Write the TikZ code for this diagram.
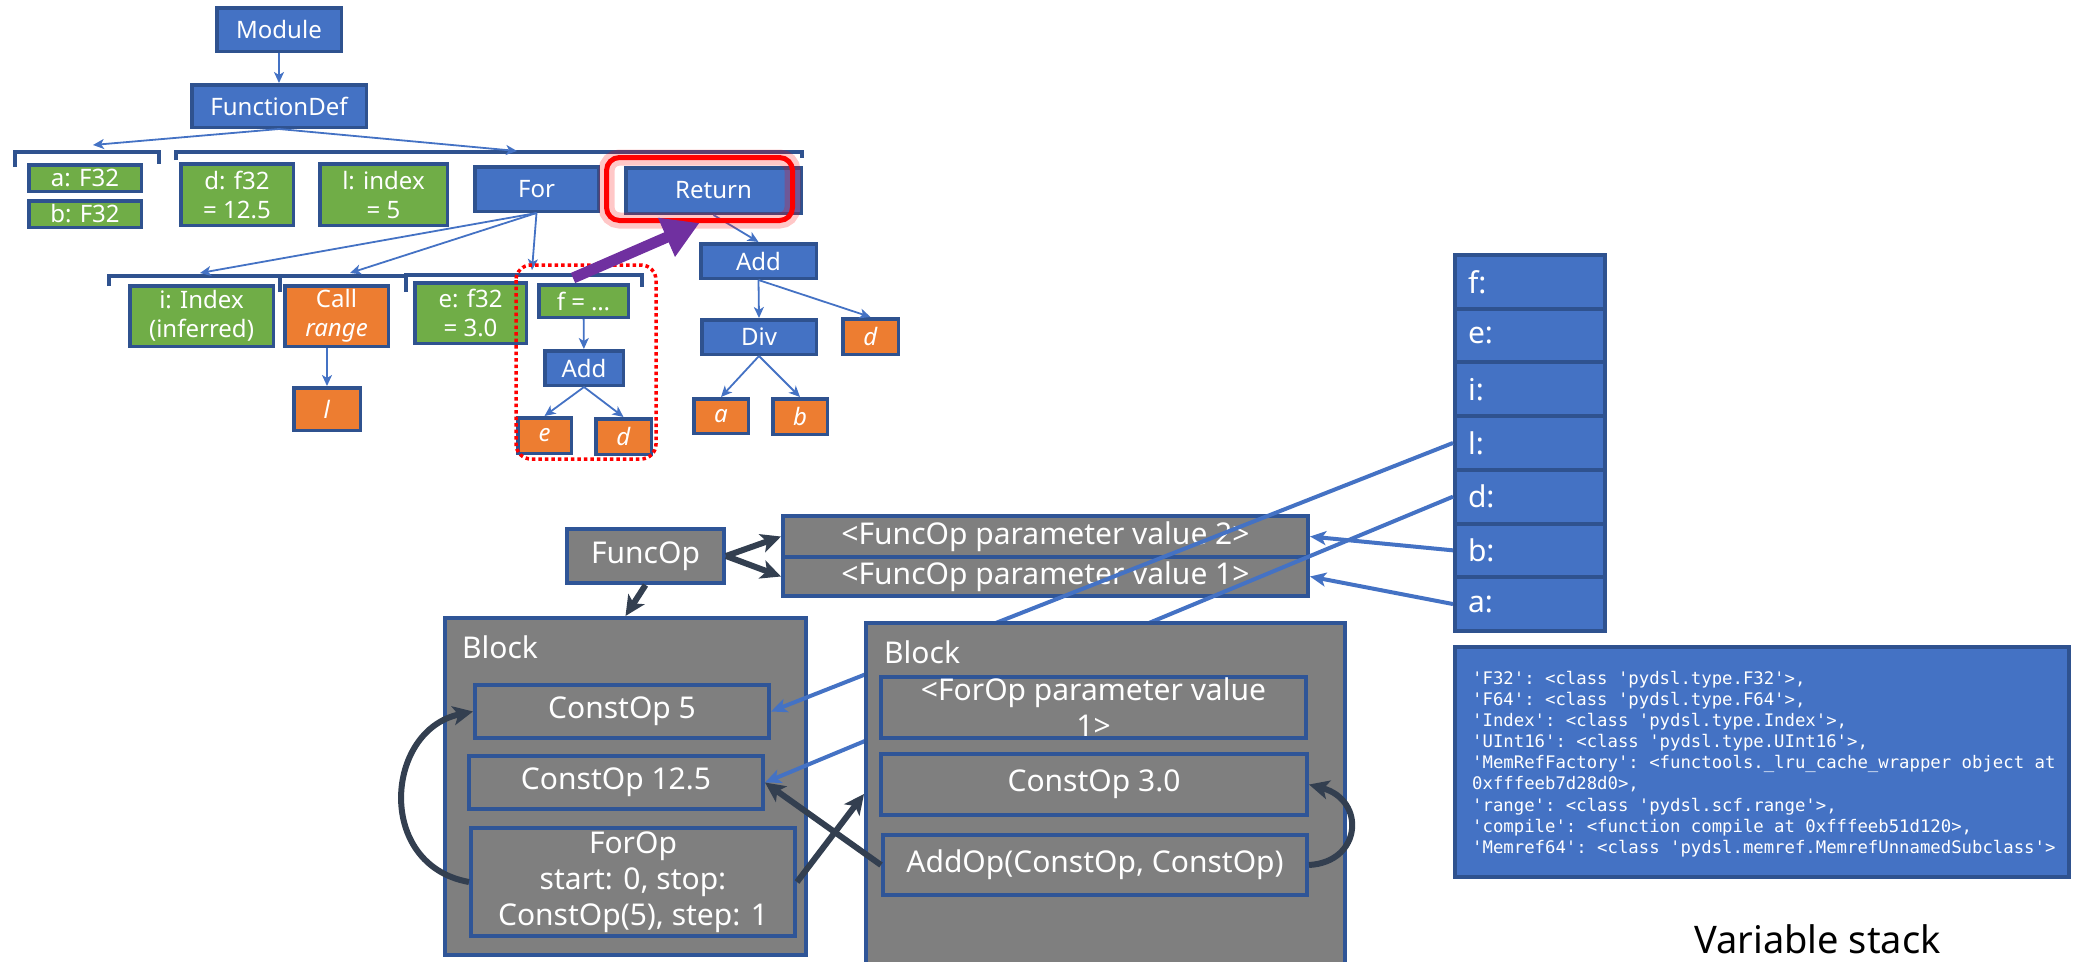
\documentclass[tikz,border=0pt]{standalone}
\usepackage{fontspec}
\setmainfont{Noto Sans}
\setmonofont{DejaVu Sans Mono}
\usetikzlibrary{arrows.meta}

\definecolor{boxblue}{HTML}{4472C4}
\definecolor{edgeblue}{HTML}{2F528F}
\definecolor{grayedge}{HTML}{2F5597}
\definecolor{boxgreen}{HTML}{70AD47}
\definecolor{boxorange}{HTML}{ED7D31}
\definecolor{boxgray}{HTML}{7F7F7F}
\definecolor{slate}{HTML}{333F50}
\definecolor{hlpurple}{HTML}{7030A0}

\newcommand{\treefont}{\fontsize{24}{29}\selectfont}
\newcommand{\opfont}{\fontsize{30}{36}\selectfont}
\newcommand{\codesize}{\fontsize{17.3}{21.1}\selectfont}
\newcommand{\captionfont}{\fontsize{38}{46}\selectfont}

\tikzset{
  treebox/.style={draw=edgeblue, line width=3.5pt, text=white, inner sep=0pt,
    font=\treefont, align=center},
  bluebox/.style={treebox, fill=boxblue},
  greenbox/.style={treebox, fill=boxgreen},
  orangebox/.style={treebox, fill=boxorange},
  graybox/.style={draw=grayedge, line width=4pt, fill=boxgray, text=white,
    inner sep=0pt, font=\opfont, align=center},
  stackbox/.style={draw=edgeblue, line width=4pt, fill=boxblue, text=white,
    inner sep=0pt, font=\opfont, minimum width=150pt, minimum height=53.7pt},
  treearrow/.style={draw=boxblue, line width=1.8pt,
    -{Stealth[length=11pt,width=10pt,inset=3pt]}},
  bracketline/.style={draw=edgeblue, line width=4pt},
  linkarrow/.style={draw=boxblue, line width=4pt,
    -{Stealth[length=16pt,width=14pt,inset=4pt]}},
  flowarrow/.style={draw=slate, line width=6pt,
    -{Stealth[length=20pt,width=19pt,inset=5pt]}},
  bigarrow/.style={draw=hlpurple, line width=11pt,
    -{Triangle[length=36pt,width=40pt]}},
  hlbox/.style={draw=red, line width=5pt, rounded corners=13pt, inner sep=0pt,
    preaction={draw=red, line width=16pt, opacity=0.22}},
  scopebox/.style={draw=red, line width=3.5pt, rounded corners=15pt,
    dash pattern=on 3.5pt off 3pt},
  blocklabel/.style={anchor=base west, text=white, font=\opfont, inner sep=0pt},
}

\begin{document}
\begin{tikzpicture}[x=1pt, y=-1pt]
\useasboundingbox (0,0) rectangle (2074,961);

% ---------------- syntax tree ----------------
\node[bluebox, minimum width=124.5pt, minimum height=43.5pt] (module) at (279,29.5) {Module};
\node[bluebox, minimum width=174.5pt, minimum height=42.5pt] (fdef) at (279,106) {FunctionDef};

\node[greenbox, minimum width=112.5pt, minimum height=26.5pt] (argA) at (85,178) {a: F32};
\node[greenbox, minimum width=112.5pt, minimum height=26.5pt] (argB) at (85,214) {b: F32};
\node[greenbox, minimum width=112.5pt, minimum height=61.5pt] (asgD) at (237,194.5) {d: f32\\= 12.5};
\node[greenbox, minimum width=127.5pt, minimum height=61.5pt] (asgL) at (383.5,194.5) {l: index\\= 5};
\node[bluebox, minimum width=123.5pt, minimum height=44.5pt] (forst) at (536.5,189) {For};
\node[bluebox, minimum width=175.5pt, minimum height=45.5pt] (retst) at (713.5,190.5) {Return};

\node[bluebox, minimum width=115.5pt, minimum height=34.5pt] (addR) at (758.5,261) {Add};
\node[bluebox, minimum width=114.5pt, minimum height=34.5pt] (divR) at (759,337) {Div};
\node[orangebox, minimum width=55.5pt, minimum height=35.5pt] (dR) at (870.5,336.5) {\textit{d}};
\node[orangebox, minimum width=54.5pt, minimum height=34.5pt] (aR) at (721,416) {\textit{a}};
\node[orangebox, minimum width=54.5pt, minimum height=35.5pt] (bR) at (800,416.5) {\textit{b}};

\node[greenbox, minimum width=143.5pt, minimum height=60.5pt] (idxI) at (201.5,316) {i: Index\\(inferred)};
\node[orangebox, minimum width=103.5pt, minimum height=60.5pt] (callR) at (336.5,316) {Call\\\textit{range}};
\node[orangebox, minimum width=66.5pt, minimum height=42.5pt] (lO) at (327,409) {\textit{l}};
\node[greenbox, minimum width=111.5pt, minimum height=60.5pt] (asgE) at (470.5,313) {e: f32\\= 3.0};
\node[greenbox, minimum width=89.5pt, minimum height=32.5pt] (asgF) at (583.5,301) {f = \ldots};
\node[bluebox, minimum width=78.5pt, minimum height=34.5pt] (addM) at (584,368) {Add};
\node[orangebox, minimum width=53.5pt, minimum height=35.5pt] (eO) at (544.5,435.5) {\textit{e}};
\node[orangebox, minimum width=55.5pt, minimum height=35.5pt] (dO) at (623.5,436.5) {\textit{d}};

% brackets grouping the children of a node
\draw[bracketline] (15,167) -- (15,152) -- (159,152) -- (159,164);
\draw[bracketline] (176,160) -- (176,152) -- (802,152) -- (802,158);
\draw[bracketline] (109,286) -- (109,276) -- (280,276);
\draw[bracketline] (280,292) -- (280,276) -- (406,276);
\draw[bracketline] (406,292) -- (406,275) -- (642,275) -- (642,287);

\coordinate (bodyL) at (93,145);
\coordinate (bodyR) at (517,151);
\coordinate (forA) at (200,273);
\coordinate (forB) at (350,273);
\coordinate (forC) at (532,270);

\draw[treearrow] (module) -- (fdef);
\draw[treearrow] (fdef.south) -- (bodyL);
\draw[treearrow] (fdef.south) -- (bodyR);
\draw[treearrow] (forst.south) -- (forA);
\draw[treearrow] (forst.south) -- (forB);
\draw[treearrow] (forst.south) -- (forC);
\draw[treearrow] (lO.north |- callR.south) -- (lO.north);
\draw[treearrow] (asgF) -- (addM);
\draw[treearrow] (addM.south) -- (eO.north);
\draw[treearrow] (addM.south) -- (dO.north);
\draw[treearrow] (retst.south) -- (addR.north);
\draw[treearrow] (addR.south) -- (divR.north);
\draw[treearrow] (addR.south) -- (dR.north);
\draw[treearrow] (divR.south) -- (aR.north);
\draw[treearrow] (divR.south) -- (bR.north);

% dotted scope around the loop body and highlighted return
\draw[scopebox] (516,265) rectangle (656,459);
\node[hlbox, minimum width=186pt, minimum height=63pt] (hl) at (699.5,189) {};
\coordinate (ptail) at (573,278);
\draw[bigarrow] (ptail) -- (hl.south);

% ---------------- variable stack ----------------
\node[stackbox] (sf) at (1530,281.85) {\makebox[124pt][l]{f:}};
\node[stackbox] (se) at (1530,335.55) {\makebox[124pt][l]{e:}};
\node[stackbox] (si) at (1530,389.25) {\makebox[124pt][l]{i:}};
\node[stackbox] (sl) at (1530,442.95) {\makebox[124pt][l]{l:}};
\node[stackbox] (sd) at (1530,496.65) {\makebox[124pt][l]{d:}};
\node[stackbox] (sb) at (1530,550.35) {\makebox[124pt][l]{b:}};
\node[stackbox] (sa) at (1530,604.05) {\makebox[124pt][l]{a:}};

\node[draw=edgeblue, line width=4pt, fill=boxblue, minimum width=614pt,
      minimum height=230pt, inner sep=0pt] (globals) at (1762,762) {};
\node[anchor=north west, inner sep=0pt, text=white, align=left,
      font=\ttfamily\codesize] (globtext) at (1472,671) {%
'F32': <class 'pydsl.type.F32'>,\\
'F64': <class 'pydsl.type.F64'>,\\
'Index': <class 'pydsl.type.Index'>,\\
'UInt16': <class 'pydsl.type.UInt16'>,\\
'MemRefFactory': <functools.\_lru\_cache\_wrapper object at\\
0xfffeeb7d28d0>,\\
'range': <class 'pydsl.scf.range'>,\\
'compile': <function compile at 0xfffeeb51d120>,\\
'Memref64': <class 'pydsl.memref.MemrefUnnamedSubclass'>};

\node[anchor=base west, inner sep=0pt, font=\captionfont] (stackcap) at (1694,953) {Variable stack};

% ---------------- operations ----------------
\node[graybox, minimum width=157pt, minimum height=54pt] (funcop) at (645.5,556) {FuncOp};
\node[graybox, minimum width=525pt, minimum height=41pt] (par2) at (1045.5,536.5) {<FuncOp parameter value 2>};
\node[graybox, minimum width=525pt, minimum height=39pt] (par1) at (1045.5,576.5) {<FuncOp parameter value 1>};

\node[graybox, minimum width=361pt, minimum height=337pt] (blockA) at (625.5,786.5) {};
\node[blocklabel] (blockAlab) at (462,658) {Block};
\node[graybox, minimum width=294pt, minimum height=53pt] (c5) at (622,711.5) {ConstOp 5};
\node[graybox, minimum width=294pt, minimum height=53pt] (c125) at (616,782.5) {ConstOp 12.5};
\node[graybox, minimum width=324pt, minimum height=108pt] (forop) at (633,882) {ForOp\\start: 0, stop:\\ConstOp(5), step: 1};

\draw[linkarrow] (sl.west) -- (c5.east);
\draw[linkarrow] (sd.west) -- (c125.east);

\node[graybox, minimum width=479pt, minimum height=342pt] (blockB) at (1105.5,794) {};
\node[blocklabel] (blockBlab) at (884,663) {Block};
\node[graybox, minimum width=425pt, minimum height=61pt] (fparam) at (1093.5,707.5) {<ForOp parameter value\\1>};
\node[graybox, minimum width=426pt, minimum height=61pt] (c30) at (1094,784.5) {ConstOp 3.0};
\node[graybox, minimum width=424pt, minimum height=60pt] (addop) at (1095,865) {AddOp(ConstOp, ConstOp)};

\draw[linkarrow] (sb.west) -- (par2.east);
\draw[linkarrow] (sa.west) -- (par1.east);

\draw[flowarrow] (funcop.east) -- (par2.west);
\draw[flowarrow] (funcop.east) -- (par1.west);
\draw[flowarrow] (funcop.south) -- (blockA.north);
\draw[flowarrow] (forop.west) .. controls (375,865) and (385,730) .. (c5.west);
\draw[flowarrow] (forop.east) -- (blockB.west);
\draw[flowarrow] (addop.west) -- (c125.east);
\draw[flowarrow] (addop.east) .. controls (1362,862) and (1366,800) .. (c30.east);
\end{tikzpicture}
\end{document}
